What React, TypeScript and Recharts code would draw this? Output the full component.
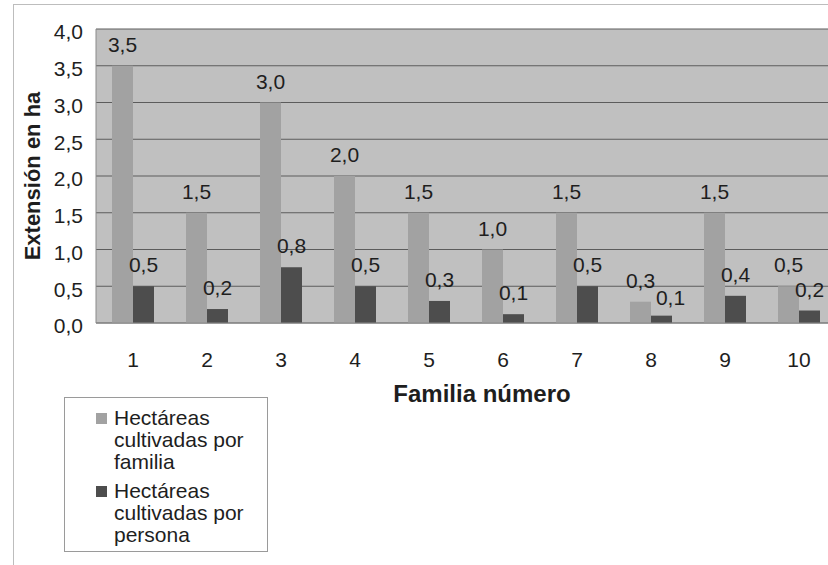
import { BarChart, Bar, XAxis, YAxis, CartesianGrid, LabelList } from 'recharts'

const familias = ['1', '2', '3', '4', '5', '6', '7', '8', '9', '10']
const porFamilia = [3.5, 1.5, 3.0, 2.0, 1.5, 1.0, 1.5, 0.29, 1.5, 0.5]
const porPersona = [0.5, 0.19, 0.76, 0.5, 0.3, 0.12, 0.5, 0.1, 0.37, 0.17]
const yTicks = [0, 0.5, 1, 1.5, 2, 2.5, 3, 3.5, 4]

const C = {
  plot: '#c0c0c0',
  grid: '#5c5c5c',
  axis: '#8a8a8a',
  light: '#a2a2a2',
  dark: '#4d4d4d',
  text: '#1e1e1e',
  frame: '#bdbdbd',
}

const FONT = "'Liberation Sans', Arial, sans-serif"
const FS = 21

const fmt = (v: number) => Number(v).toFixed(1).replace('.', ',')

const data = familias.map((f, i) => ({
  familia: f,
  familia_ha: porFamilia[i],
  persona_ha: porPersona[i],
}))

const legendItems = [
  { color: C.light, lines: ['Hectáreas', 'cultivadas por', 'familia'] },
  { color: C.dark, lines: ['Hectáreas', 'cultivadas por', 'persona'] },
]

// small sideways nudge where two labels would collide (family 8)
const labelNudge: Record<number, number> = { 7: 9 }

const BarLabel = (nudge: boolean) => (props: any) => {
  const { x, y, width, value, index } = props
  const dx = nudge ? labelNudge[index] || 0 : 0
  return (
    <text
      x={x + width / 2 + dx}
      y={y - 14 + (nudge && labelNudge[index] ? 3 : 0)}
      textAnchor="middle"
      fontSize={FS}
      fill={C.text}
      fontFamily={FONT}
    >
      {fmt(value)}
    </text>
  )
}

export default function App() {
  return (
    <div style={{
      position: 'fixed', left: 0, top: 0, width: 828, height: 565,
      overflow: 'hidden', background: '#fff', fontFamily: FONT,
    }}>
      <div style={{
        position: 'absolute', left: 13, top: 4, width: 900, height: 700,
        border: `1px solid ${C.frame}`,
      }} />
      <div style={{ position: 'absolute', left: 0, top: 0 }}>
        <BarChart
          width={846}
          height={565}
          data={data}
          margin={{ top: 29, right: 10, left: 16, bottom: 212 }}
          barSize={21}
          barGap={0}
        >
          <CartesianGrid vertical={false} fill={C.plot} stroke={C.grid} strokeWidth={1} fillOpacity={1} />
          <XAxis
            dataKey="familia"
            height={30}
            tickLine={false}
            tickSize={0}
            tickMargin={29}
            axisLine={{ stroke: C.axis }}
            fontSize={FS}
            tick={{ fontSize: FS, fill: C.text, fontFamily: FONT }}
            label={(p: any) => {
              const vb = p.viewBox
              return (
                <text
                  x={vb.x + vb.width / 2 + 16}
                  y={402}
                  textAnchor="middle"
                  fontSize={24}
                  fontWeight={700}
                  fill={C.text}
                  fontFamily={FONT}
                >
                  Familia número
                </text>
              )
            }}
          />
          <YAxis
            width={80}
            domain={[0, 4]}
            ticks={yTicks}
            interval={0}
            tickLine={false}
            tickSize={0}
            tickMargin={13}
            axisLine={{ stroke: C.axis }}
            tickFormatter={fmt}
            fontSize={FS}
            tick={{ fontSize: FS, fill: C.text, fontFamily: FONT, dy: 3 }}
            label={{
              value: 'Extensión en ha',
              angle: -90,
              position: 'insideLeft',
              offset: 16,
              style: { textAnchor: 'middle', fontSize: 22, fontWeight: 700, fill: C.text, fontFamily: FONT },
            }}
          />
          <Bar dataKey="familia_ha" fill={C.light} isAnimationActive={false}>
            <LabelList dataKey="familia_ha" content={BarLabel(false)} />
          </Bar>
          <Bar dataKey="persona_ha" fill={C.dark} isAnimationActive={false}>
            <LabelList dataKey="persona_ha" content={BarLabel(true)} />
          </Bar>
        </BarChart>
      </div>
      <div style={{
        position: 'absolute', left: 64, top: 397, width: 202, height: 153,
        border: '1px solid #9a9a9a', boxSizing: 'content-box',
      }}>
        {legendItems.map((it, i) => (
          <div key={i} style={{ position: 'absolute', left: 31, top: 9 + i * 73 }}>
            <div style={{
              position: 'absolute', left: 0, top: 6, width: 11, height: 11, background: it.color,
            }} />
            <div style={{
              position: 'absolute', left: 18, top: 0, fontSize: FS, lineHeight: '22px',
              color: C.text, whiteSpace: 'nowrap',
            }}>
              {it.lines.map((l, j) => <div key={j}>{l}</div>)}
            </div>
          </div>
        ))}
      </div>
    </div>
  )
}
